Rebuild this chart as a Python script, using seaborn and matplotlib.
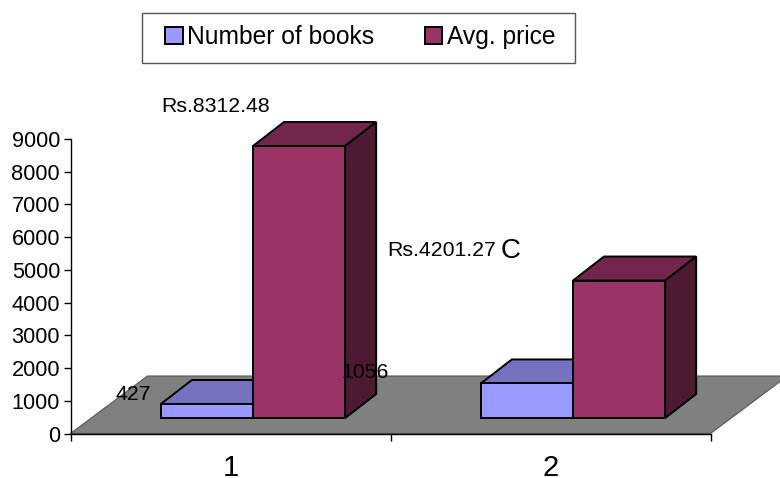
import matplotlib
matplotlib.use("Agg")
import matplotlib.pyplot as plt
from matplotlib.patches import Polygon, Rectangle
import pandas as pd
import seaborn as sns

categories = ["1", "2"]
series_names = ["Number of books", "Avg. price"]
books = [427, 1056]
price = [8312.48, 4201.27]
price_labels = ["Rs.8312.48", "Rs.4201.27"]
y_ticks = [0, 1000, 2000, 3000, 4000, 5000, 6000, 7000, 8000, 9000]

W, H = 780, 478
AX_L, AX_R, AX_B, AX_T = 70.5, 710.5, 433.5, 139.0
PX_X = 2.0 / (AX_R - AX_L)
PX_Y = 9000.0 / (AX_B - AX_T)

sns.set_theme(style="white")
plt.rcParams["font.family"] = ["Liberation Sans", "DejaVu Sans"]

df = pd.DataFrame({
    "cat": categories * 2,
    "series": [series_names[0]] * 2 + [series_names[1]] * 2,
    "value": books + price,
})

fig = plt.figure(figsize=(W / 100, H / 100), dpi=100)
ax = fig.add_axes([AX_L / W, 1 - AX_B / H, (AX_R - AX_L) / W, (AX_B - AX_T) / H])
ax.patch.set_alpha(0)

colors = ["#9999FF", "#993366"]
tops = ["#7373BF", "#73264D"]
sides = ["#4D4D80", "#4D1933"]
sns.barplot(data=df, x="cat", y="value", hue="series", hue_order=series_names,
            order=categories, palette=colors, width=0.576, gap=0, dodge=True,
            saturation=1, legend=False, ax=ax, linewidth=1.4, edgecolor="black")

ax.set_xlim(-0.5, 1.5)
ax.set_ylim(0, 9000)

SHIFT = 22.5 * PX_X
LIFT = 15.5 * PX_Y
DX = 31 * PX_X
DY = 24 * PX_Y

# floor
fx, fy = 77 * PX_X, 57.5 * PX_Y
ax.add_patch(Polygon([(-0.5, 0), (1.5, 0), (1.5 + fx, fy), (-0.5 + fx, fy)],
                     closed=True, facecolor="#808080", edgecolor="#555555",
                     linewidth=0.8, zorder=0.5, clip_on=False))

for i, container in enumerate(ax.containers):
    for bar in container:
        bar.set_x(bar.get_x() + SHIFT)
        bar.set_y(LIFT)
        bar.set_zorder(2 + i * 2 + 0.5)
        bar.set_clip_on(False)
        x0, x1 = bar.get_x(), bar.get_x() + bar.get_width()
        y0, y1 = LIFT, LIFT + bar.get_height()
        ax.add_patch(Polygon([(x0, y1), (x1, y1), (x1 + DX, y1 + DY), (x0 + DX, y1 + DY)],
                             closed=True, facecolor=tops[i], edgecolor="black",
                             linewidth=1.4, zorder=2 + i * 2, clip_on=False))
        ax.add_patch(Polygon([(x1, y0), (x1 + DX, y0 + DY), (x1 + DX, y1 + DY), (x1, y1)],
                             closed=True, facecolor=sides[i], edgecolor="black",
                             linewidth=1.4, zorder=2 + i * 2, clip_on=False))

sns.despine(ax=ax)
for s in ("left", "bottom"):
    ax.spines[s].set_color("black")
    ax.spines[s].set_linewidth(1.0)
    ax.spines[s].set_zorder(1)
ax.set_xlabel("")
ax.set_ylabel("")
ax.set_yticks(y_ticks)
ax.tick_params(axis="y", left=True, length=5, width=1, color="black", pad=2.5,
               labelsize=15.7, labelcolor="black")
ax.set_xticks([0, 1])
ax.set_xticklabels(categories)
ax.set_xticks([-0.5, 0.5, 1.5], minor=True)
ax.tick_params(axis="x", which="major", bottom=False, length=0, pad=14.5,
               labelsize=21, labelcolor="black")
ax.tick_params(axis="x", which="minor", bottom=True, length=5, width=1, color="black")


def put(x, y, s, size=15.3, **kw):
    fig.text(x / W, 1 - y / H, s, fontsize=size, color="black", ha="center",
             va="center", zorder=10, **kw)


put(216, 106, price_labels[0])
put(442, 251, price_labels[1])
put(133, 394, str(books[0]))
put(365, 373, str(books[1]))
put(511, 251, "C", size=20)

# legend
fig.add_artist(Rectangle((142 / W, 1 - 63 / H), 433 / W, 50 / H, transform=fig.transFigure,
                         facecolor="white", edgecolor="#555555", linewidth=1.0))
handles = [Rectangle((0, 0), 1, 1, facecolor=c, edgecolor="black", linewidth=1.4) for c in colors]
fig.legend(handles, series_names, ncol=2, loc="center", frameon=False,
           bbox_to_anchor=(360.5 / W, 1 - 37 / H), fontsize=17.7,
           handlelength=0.7, handleheight=0.7, handletextpad=0.2,
           columnspacing=2.05, labelcolor="black")

fig.savefig("out.png", dpi=100)
